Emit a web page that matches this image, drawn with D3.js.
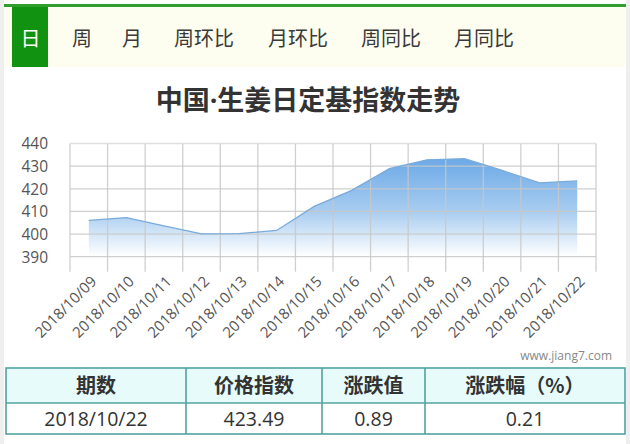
<!DOCTYPE html>
<html><head><meta charset="utf-8">
<script src="https://cdn.jsdelivr.net/npm/d3@7"></script>
<style>
html,body{margin:0;padding:0;background:#fff;}
svg{display:block;}
</style></head>
<body>
<svg id="c" width="630" height="444"></svg>
<script>
const tabs = ["日","周","月","周环比","月环比","周同比","月同比"];
const title = "中国·生姜日定基指数走势";
const dates = ["2018/10/09","2018/10/10","2018/10/11","2018/10/12","2018/10/13","2018/10/14","2018/10/15","2018/10/16","2018/10/17","2018/10/18","2018/10/19","2018/10/20","2018/10/21","2018/10/22"];
const values = [406.0,407.3,403.6,400.1,400.2,401.6,412.2,419.3,428.9,432.8,433.3,428.1,422.6,423.49];
const yTicks = [390,400,410,420,430,440];
const tableHeaders = ["期数","价格指数","涨跌值","涨跌幅（%）"];
const tableRow = ["2018/10/22","423.49","0.89","0.21"];
const watermark = "www.jiang7.com";

const svg = d3.select("#c");
const CJK = "'Noto Sans CJK SC','Noto Sans',sans-serif";
const LATCJK = "'Open Sans','Noto Sans CJK SC',sans-serif";
const NUM = "'Open Sans','Noto Sans',sans-serif";

// page frame
svg.append("rect").attr("x",0).attr("y",0).attr("width",630).attr("height",444).attr("fill","#fff");
svg.append("rect").attr("x",0).attr("y",0).attr("width",4).attr("height",444).attr("fill","#efefef");
svg.append("rect").attr("x",626).attr("y",0).attr("width",4).attr("height",444).attr("fill","#efefef");

// tab bar
svg.append("rect").attr("x",4).attr("y",7).attr("width",622).attr("height",60).attr("fill","#fefef0");
svg.append("rect").attr("x",4).attr("y",4).attr("width",622).attr("height",3).attr("fill","#2f9e2f");
svg.append("rect").attr("x",12).attr("y",7).attr("width",36).attr("height",60).attr("fill","#119311");
const tabX = [30.5,82,132,204,298,391,484];
svg.selectAll("text.tab").data(tabs).enter().append("text")
  .attr("class","tab")
  .attr("x",(d,i)=>tabX[i]).attr("y",46)
  .attr("text-anchor","middle")
  .attr("font-family",CJK).attr("font-size",20)
  .attr("fill",(d,i)=>i===0?"#fff":"#3a3a3a")
  .text(d=>d);

// title
svg.append("text").attr("x",308).attr("y",110).attr("text-anchor","middle")
  .attr("font-family",LATCJK).attr("font-size",27).attr("font-weight","bold")
  .attr("fill","#333").text(title);

// chart
const L=70, R=596, T=143.5, B=256.7, gridBottom=271.7;
const x = d3.scaleBand().domain(dates).range([L,R]).padding(0);
const y = d3.scaleLinear().domain([390,440]).range([B,T]);
const cx = d => x(d)+x.bandwidth()/2;

const defs = svg.append("defs");
const grad = defs.append("linearGradient").attr("id","ag")
  .attr("gradientUnits","userSpaceOnUse").attr("x1",0).attr("x2",0).attr("y1",y(434)).attr("y2",y(390));
grad.append("stop").attr("offset","0%").attr("stop-color","#6aa8e6");
grad.append("stop").attr("offset","55%").attr("stop-color","#a9cdf0");
grad.append("stop").attr("offset","100%").attr("stop-color","#ffffff");

// area
const data = dates.map((d,i)=>({d, v:values[i]}));
svg.append("path").datum(data)
  .attr("fill","url(#ag)")
  .attr("d", d3.area().x(p=>cx(p.d)).y0(y(390)).y1(p=>y(p.v)));

// grid
const g = svg.append("g");
const vx = dates.map(d=>x(d)).concat([x.range()[1]]);
g.selectAll("line.v").data(vx).enter().append("line")
  .attr("x1",d=>d).attr("x2",d=>d).attr("y1",T).attr("y2",gridBottom)
  .attr("stroke","#c8c8c8").attr("stroke-width",1.3).attr("opacity",0.85);
g.selectAll("line.h").data(yTicks).enter().append("line")
  .attr("x1",L).attr("x2",R).attr("y1",d=>y(d)).attr("y2",d=>y(d))
  .attr("stroke",d=>d===440?"#dcdcdc":"#c8c8c8").attr("stroke-width",1.3).attr("opacity",0.85);

// line
svg.append("path").datum(data)
  .attr("fill","none").attr("stroke","#78aadb").attr("stroke-width",1.3)
  .attr("d", d3.line().x(p=>cx(p.d)).y(p=>y(p.v)));

// y axis labels
const yAxis = d3.axisLeft(y).tickValues(yTicks).tickSize(0).tickPadding(0);
const ya = svg.append("g").attr("transform","translate(48,0)").call(yAxis);
ya.select(".domain").remove();
ya.selectAll("text").attr("font-family",NUM).attr("font-size",15.5).attr("fill","#555").attr("dy","0.35em");

// x axis labels
const xAxis = d3.axisBottom(x).tickSize(0).tickPadding(0);
const xa = svg.append("g").attr("transform",`translate(0,${gridBottom})`).call(xAxis);
xa.select(".domain").remove();
xa.selectAll("text")
  .attr("font-family",NUM).attr("font-size",15).attr("fill","#555")
  .attr("text-anchor","end")
  .attr("dy","0.35em").attr("y",0).attr("x",0)
  .attr("transform","translate(5,7) rotate(-45)");

// watermark
svg.append("text").attr("x",612).attr("y",360).attr("text-anchor","end")
  .attr("font-family",NUM).attr("font-size",12).attr("fill","#888").text(watermark);

// table
const colX = [6,186,322,425,625];
const rowY = [368,403,434];
svg.append("rect").attr("x",colX[0]).attr("y",rowY[0]).attr("width",colX[4]-colX[0]).attr("height",rowY[1]-rowY[0]).attr("fill","#e6fbfa");
const tb = svg.append("g").attr("stroke","#52a3a0").attr("stroke-width",1.6);
tb.append("rect").attr("x",colX[0]).attr("y",rowY[0]).attr("width",colX[4]-colX[0]).attr("height",rowY[2]-rowY[0]).attr("fill","none");
tb.append("line").attr("x1",colX[0]).attr("x2",colX[4]).attr("y1",rowY[1]).attr("y2",rowY[1]);
tb.selectAll("line.c").data(colX.slice(1,4)).enter().append("line")
  .attr("x1",d=>d).attr("x2",d=>d).attr("y1",rowY[0]).attr("y2",rowY[2]);
svg.selectAll("text.th").data(tableHeaders).enter().append("text")
  .attr("x",(d,i)=>(colX[i]+colX[i+1])/2).attr("y",393)
  .attr("text-anchor","middle").attr("font-family",CJK).attr("font-size",20).attr("font-weight","bold")
  .attr("fill","#333").text(d=>d);
svg.selectAll("text.td").data(tableRow).enter().append("text")
  .attr("x",(d,i)=>(colX[i]+colX[i+1])/2).attr("y",425.5)
  .attr("text-anchor","middle").attr("font-family",NUM).attr("font-size",19.5)
  .attr("fill","#333").text(d=>d);
</script>
</body></html>
